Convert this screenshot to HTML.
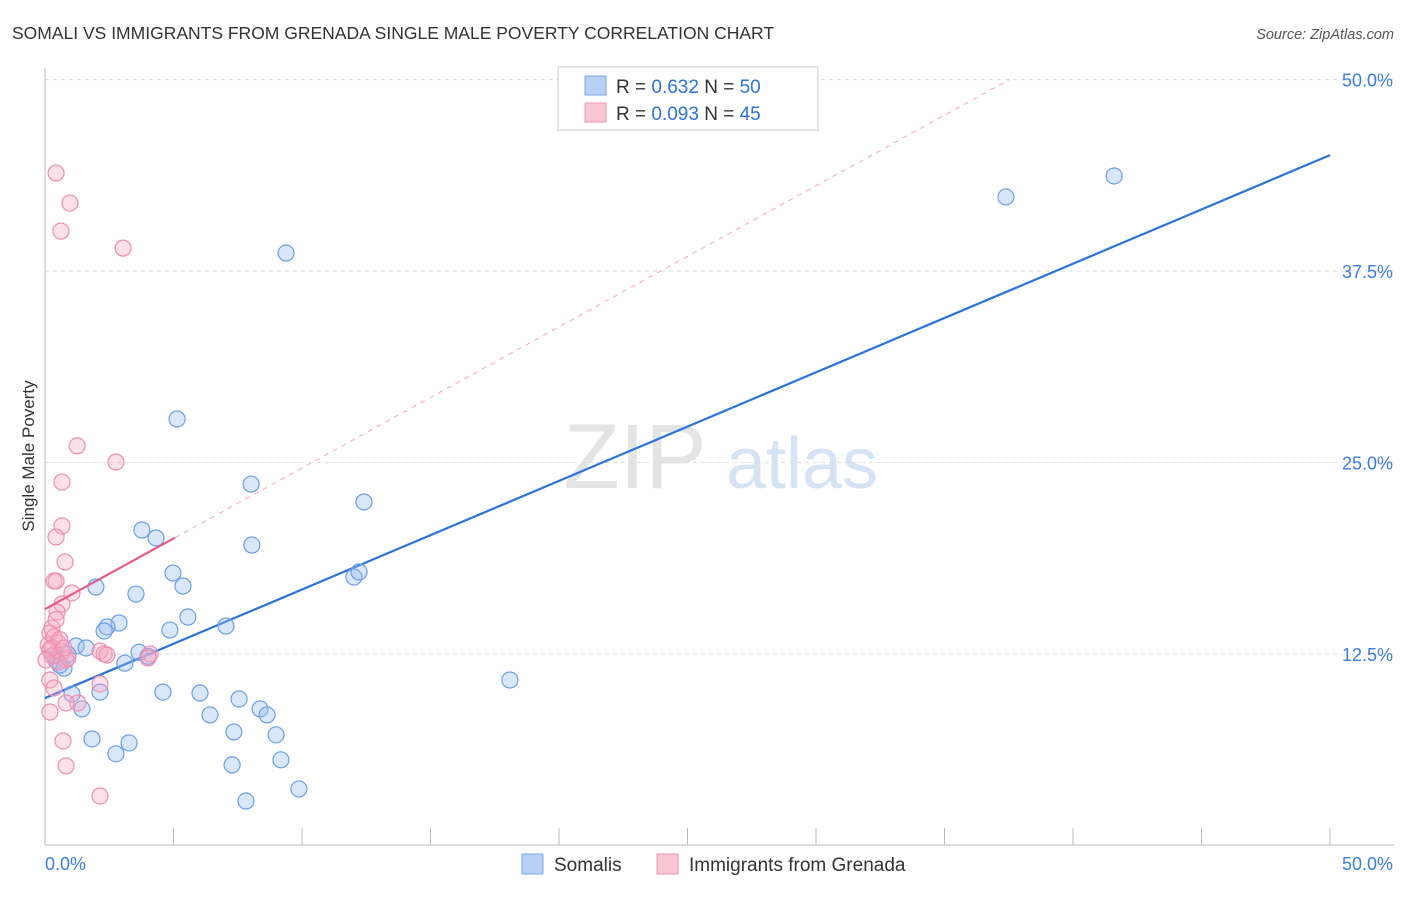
<!DOCTYPE html>
<html><head><meta charset="utf-8"><style>
body{margin:0;background:#fff;font-family:"Liberation Sans",sans-serif;}
svg text{font-family:"Liberation Sans",sans-serif;}
</style></head><body>
<svg id="chart" width="1406" height="892" xmlns="http://www.w3.org/2000/svg">
<text x="12" y="39" font-size="17.5" fill="#333">SOMALI VS IMMIGRANTS FROM GRENADA SINGLE MALE POVERTY CORRELATION CHART</text>
<text x="1394" y="39" font-size="14.5" fill="#555" text-anchor="end" font-style="italic">Source: ZipAtlas.com</text>
<text transform="translate(34,456) rotate(-90)" font-size="17" fill="#333" text-anchor="middle">Single Male Poverty</text>
<g>
<text x="635" y="488" font-size="92" font-family="Liberation Serif" fill="#e4e4e4" text-anchor="middle">ZIP</text>
<text x="802" y="488" font-size="72" fill="#d6e3f3" text-anchor="middle">atlas</text>
</g>
<g id="grid"></g><g id="axes"></g><g id="lines"></g><g id="pts"></g>
<g>
<rect x="558" y="67" width="260" height="63" fill="#fff" stroke="#ccc"/>
<rect x="585" y="76" width="21" height="19" fill="#b8d0f5" stroke="#7aa7e8"/>
<rect x="585" y="103" width="21" height="19" fill="#f9c6d5" stroke="#ee94b0"/>
<text x="616" y="93" font-size="19" fill="#333">R = <tspan fill="#2f72d8">0.632</tspan>   N = <tspan fill="#2f72d8">50</tspan></text>
<text x="616" y="120" font-size="19" fill="#333">R = <tspan fill="#2f72d8">0.093</tspan>   N = <tspan fill="#2f72d8">45</tspan></text>
</g>
<g>
<rect x="522" y="854" width="21" height="20" fill="#b8d0f5" stroke="#7aa7e8"/>
<text x="554" y="871" font-size="19" fill="#333">Somalis</text>
<rect x="657" y="854" width="21" height="20" fill="#f9c6d5" stroke="#ee94b0"/>
<text x="689" y="871" font-size="19" fill="#333">Immigrants from Grenada</text>
</g>
</svg>
<script>
const yTicks=[12.5,25,37.5,50];
const yTickLabels=["12.5%","25.0%","37.5%","50.0%"];
const xTickLabels=["0.0%","50.0%"];
const blueX=[9.38,5.14,8.02,12.41,3.77,4.32,8.05,12.02,12.22,4.98,5.37,1.98,3.54,5.56,2.88,2.41,2.30,4.86,7.04,1.21,1.60,3.66,4.01,3.11,0.43,0.74,0.35,1.05,2.14,4.59,6.03,7.55,18.09,1.44,6.42,8.37,8.64,7.35,1.83,3.27,8.99,2.76,7.28,9.18,9.88,7.82,37.39,41.60,0.89,0.58];
const blueY=[38.68,27.85,23.60,22.43,20.60,20.08,19.62,17.53,17.86,17.79,16.94,16.88,16.42,14.92,14.53,14.27,14.01,14.07,14.33,13.03,12.90,12.62,12.36,11.91,12.10,11.58,12.43,9.89,10.02,10.02,9.96,9.57,10.81,8.92,8.53,8.92,8.53,7.42,6.96,6.70,7.23,5.99,5.27,5.60,3.70,2.91,42.34,43.71,12.49,11.78];
const pinkX=[0.43,0.97,0.62,3.04,1.25,2.76,0.66,0.66,0.43,0.78,0.35,0.43,1.05,0.66,0.47,0.27,0.19,0.35,0.51,0.12,0.19,0.66,0.82,2.14,2.30,4.09,4.01,2.41,0.27,0.51,0.89,0.19,0.35,2.14,1.28,0.82,0.19,0.70,0.82,2.14,0.27,0.58,0.43,0.74,0.04];
const pinkY=[43.90,41.94,40.11,39.0,26.09,25.04,23.73,20.86,20.14,18.51,17.27,17.27,16.49,15.77,15.25,14.20,13.88,13.62,13.23,13.09,12.77,12.64,12.11,12.70,12.51,12.51,12.25,12.44,12.38,11.98,12.25,10.81,10.29,10.55,9.31,9.31,8.72,6.83,5.20,3.24,12.90,13.45,14.75,12.90,12.11];
const blueFit=[9.63,45.07];
const pinkFit=[15.44,20.1];
const NS="http://www.w3.org/2000/svg";
const X=v=>45+v*25.7, Y=v=>845.6-v*15.32;
function mk(p,t,a){const e=document.createElementNS(NS,t);for(const k in a)e.setAttribute(k,a[k]);document.getElementById(p).appendChild(e);return e;}
yTicks.forEach((t,i)=>{
 const g=mk('grid','line',{x1:45,x2:1394,y1:Y(t),y2:Y(t),stroke:'#ddd','stroke-dasharray':'4,4'});
 
 
 const l=mk('grid','text',{x:1393,y:Y(t)+7,'font-size':18,fill:'#3d7ddd','text-anchor':'end'});
 l.textContent=yTickLabels[i];
 
 
});
const ax=mk('axes','line',{x1:45,x2:1394,y1:845,y2:845,stroke:'#bbb'});


const ay=mk('axes','line',{x1:45,x2:45,y1:68,y2:845,stroke:'#bbb'});


for(let i=0;i<=10;i++){const t=mk('axes','line',{x1:X(i*5),x2:X(i*5),y1:828,y2:845,stroke:'#bbb'});
 
 }
[[0,'start',45],[50,'end',1393]].forEach((d,i)=>{const l=mk('axes','text',{x:d[2],y:870,'font-size':18,fill:'#3d7ddd','text-anchor':d[1]});l.textContent=xTickLabels[i];
 
 });
const slope=(pinkFit[1]-pinkFit[0])/5.06;
const xEnd=(50-pinkFit[0])/slope+0;
const pd=mk('lines','line',{x1:X(5.06),y1:Y(pinkFit[1]),x2:X(Math.min(xEnd,50)),y2:Y(pinkFit[0]+slope*Math.min(xEnd,50)),stroke:'#eeaabb','stroke-dasharray':'5,5'});


const bl=mk('lines','line',{x1:X(0),y1:Y(blueFit[0]),x2:X(50),y2:Y(blueFit[1]),stroke:'#2b73d9','stroke-width':2.2});


blueX.forEach((x,i)=>{const c=mk('pts','circle',{cx:X(x),cy:Y(blueY[i]),r:8,fill:'rgba(150,185,240,0.35)',stroke:'#6b9ee6','stroke-width':1.2});
 
 });
pinkX.forEach((x,i)=>{const c=mk('pts','circle',{cx:X(x),cy:Y(pinkY[i]),r:8,fill:'rgba(245,170,195,0.35)',stroke:'#ee8fae','stroke-width':1.2});
 
 });
const pl=mk('pts','line',{x1:X(0),y1:Y(pinkFit[0]),x2:X(5.06),y2:Y(pinkFit[1]),stroke:'#e45c8a','stroke-width':2.2});


</script>
</body></html>
